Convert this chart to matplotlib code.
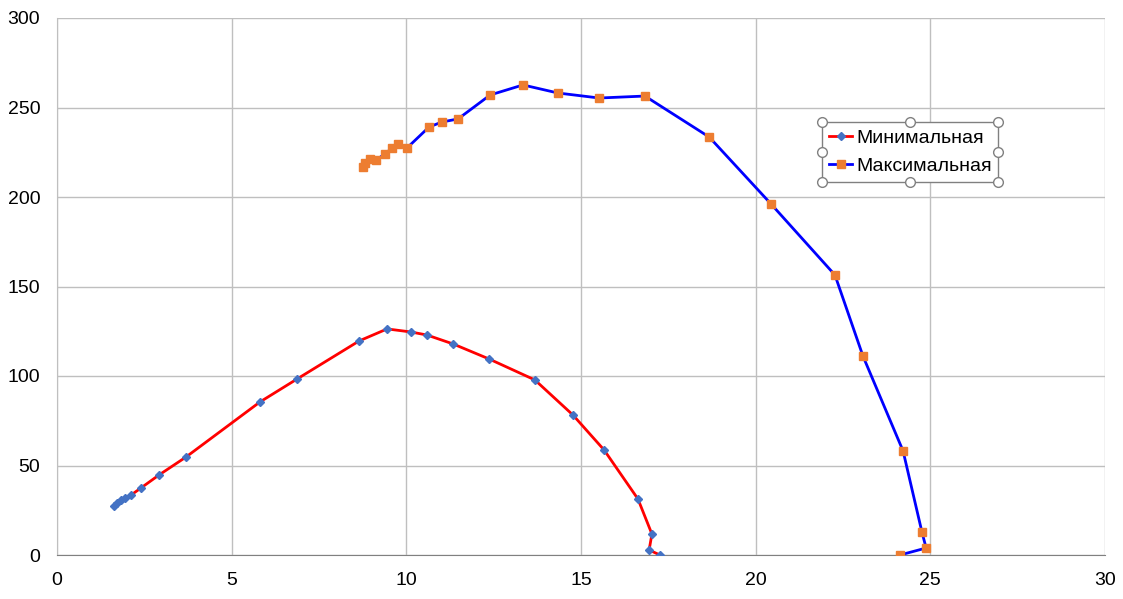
import matplotlib.pyplot as plt
from matplotlib.lines import Line2D

plt.rcParams['font.family'] = ['Liberation Sans', 'DejaVu Sans']

# Минимальная
min_x = [1.63, 1.72, 1.83, 1.95, 2.12, 2.40, 2.92, 3.69, 5.81, 6.87, 8.65, 9.45,
         10.13, 10.59, 11.34, 12.37, 13.68, 14.77, 15.66, 16.63, 17.03, 16.95, 17.26]
min_y = [27.4, 29.0, 30.7, 31.8, 33.5, 37.4, 44.7, 54.7, 85.5, 98.3, 119.6, 126.3,
         124.6, 122.9, 117.9, 109.5, 97.8, 78.2, 58.7, 31.3, 11.7, 2.8, 0.0]

# Максимальная
max_x = [8.76, 8.82, 8.96, 9.13, 9.39, 9.59, 9.76, 10.02, 10.65, 11.02, 11.48, 12.40,
         13.34, 14.34, 15.52, 16.83, 18.67, 20.44, 22.27, 23.07, 24.22, 24.76, 24.88, 24.13]
max_y = [216.8, 219.0, 221.2, 220.7, 224.0, 227.4, 229.6, 227.4, 239.1, 241.9, 243.6, 257.0,
         262.6, 258.1, 255.3, 256.4, 233.5, 196.1, 156.4, 111.2, 58.1, 12.8, 3.9, 0.0]

fig = plt.figure(figsize=(11.23, 5.99), dpi=100)
ax = fig.add_axes([57 / 1123, 44 / 599, 1048 / 1123, 537 / 599])

ax.plot(min_x, min_y, color='#FF0000', lw=2, marker='D', ms=4.5,
        mfc='#4472C4', mec='#4472C4', label='Минимальная', zorder=3)
ax.plot(max_x, max_y, color='#0000FF', lw=2, marker='s', ms=6,
        mfc='#ED7D31', mec='#ED7D31', label='Максимальная', zorder=3)

ax.set_xlim(0, 30)
ax.set_ylim(0, 300)
ax.set_xticks(range(0, 31, 5))
ax.set_yticks(range(0, 301, 50))
ax.grid(True, color='#BFBFBF', lw=1)
ax.set_axisbelow(True)
for s in ['top', 'right']:
    ax.spines[s].set_visible(False)
ax.spines['left'].set_color('#BFBFBF')
ax.spines['bottom'].set_color('#808080')
ax.tick_params(length=0, labelsize=14, colors='black')
ax.tick_params(axis='x', pad=12)
ax.tick_params(axis='y', pad=12)

leg = ax.legend(loc='upper left', bbox_to_anchor=(0.730, 0.806), fontsize=14,
                frameon=True, fancybox=False, edgecolor='#808080', framealpha=1,
                handlelength=1.2, handletextpad=0.2, borderpad=0.35, labelspacing=0.55,
                borderaxespad=0)
leg.get_frame().set_linewidth(1)

# selection handles around the legend
fig.canvas.draw()
bb = leg.get_window_extent().transformed(fig.transFigure.inverted())
xs = [bb.x0, (bb.x0 + bb.x1) / 2, bb.x1]
ys = [bb.y0, (bb.y0 + bb.y1) / 2, bb.y1]
for hx in xs:
    for hy in ys:
        if hx == xs[1] and hy == ys[1]:
            continue
        fig.add_artist(Line2D([hx], [hy], marker='o', ms=7, mfc='white',
                              mec='#808080', mew=1, transform=fig.transFigure))

fig.savefig('out.png', dpi=100)
